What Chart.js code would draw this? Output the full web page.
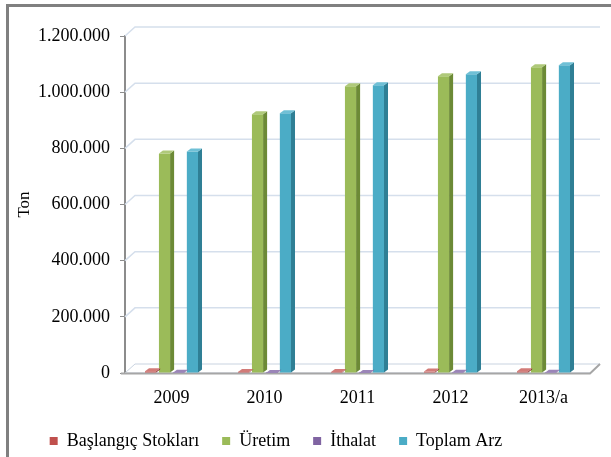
<!DOCTYPE html>
<html lang="tr">
<head>
<meta charset="UTF-8">
<title>Arz</title>
<script src="https://cdn.jsdelivr.net/npm/chart.js"></script>
<style>
    body { margin: 0; background: #fff; overflow: hidden; }
    .frame { position: absolute; left: 6px; top: 4px; width: 700px; height: 600px; border-left: 3px solid #808080; border-top: 3px solid #808080; }
    #chart { position: absolute; left: 0; top: 0; }
</style>
</head>
<body>
<div class="frame"></div>
<canvas id="chart" width="611" height="457"></canvas>
<script>
const years = ['2009', '2010', '2011', '2012', '2013/a'];
const stok = [6000, 4000, 3500, 5000, 6000];
const uretim = [782000, 921000, 1021000, 1057000, 1089000];
const ithalat = [500, 300, 400, 600, 800];
const toplamArz = [789000, 925000, 1025000, 1064000, 1096000];
const yTicks = [0, 200000, 400000, 600000, 800000, 1000000, 1200000];

const seriesNames = ['Başlangıç Stokları', 'Üretim', 'İthalat', 'Toplam Arz'];
const colors = ['#c0504d', '#9bbb59', '#8064a2', '#4bacc6'];
const sideColors = ['#8c3532', '#6c8a36', '#5a4576', '#2f7f95'];
const topColors = ['#d27b78', '#afc97a', '#9b85b8', '#6fc0d6'];

const font = 'Liberation Serif, Times New Roman, serif';
const wall = { dx: 10, dy: 9 };
const bar3d = { dx: 4, dy: 3 };

function dots(v) {
    return String(v).replace(/\B(?=(\d{3})+(?!\d))/g, '.');
}

// back wall grid lines and floor
const wallPlugin = {
    id: 'wall',
    beforeDatasetsDraw(chart) {
        const ctx = chart.ctx;
        const a = chart.chartArea;
        const ys = chart.scales.y;
        ctx.save();
        ctx.strokeStyle = '#d5dfec';
        ctx.lineWidth = 1.5;
        yTicks.forEach(v => {
            if (v === 0) return;
            const y = ys.getPixelForValue(v);
            ctx.beginPath();
            ctx.moveTo(a.left, y);
            ctx.lineTo(a.left + wall.dx, y - wall.dy);
            ctx.lineTo(a.right + wall.dx, y - wall.dy);
            ctx.stroke();
        });
        // floor
        const b = a.bottom;
        ctx.beginPath();
        ctx.moveTo(a.left, b);
        ctx.lineTo(a.left + wall.dx, b - wall.dy);
        ctx.lineTo(a.right + wall.dx, b - wall.dy);
        ctx.lineTo(a.right, b);
        ctx.closePath();
        ctx.fillStyle = '#ffffff';
        ctx.fill();
        ctx.strokeStyle = '#c9d3e0';
        ctx.lineWidth = 1;
        ctx.stroke();
        ctx.strokeStyle = '#a6a6a6';
        ctx.lineWidth = 2;
        ctx.beginPath();
        ctx.moveTo(a.left - 4, b + 0.5);
        ctx.lineTo(a.right, b + 0.5);
        ctx.lineTo(a.right + wall.dx, b - wall.dy);
        ctx.stroke();
        ctx.restore();
    }
};

// side and top faces of the columns
const barPlugin = {
    id: 'bar3d',
    afterDatasetsDraw(chart) {
        const ctx = chart.ctx;
        ctx.save();
        chart.data.datasets.forEach((ds, i) => {
            const meta = chart.getDatasetMeta(i);
            meta.data.forEach(el => {
                const p = el.getProps(['x', 'y', 'base', 'width'], true);
                const l = p.x - p.width / 2, r = p.x + p.width / 2;
                ctx.fillStyle = sideColors[i];
                ctx.beginPath();
                ctx.moveTo(r, p.y);
                ctx.lineTo(r + bar3d.dx, p.y - bar3d.dy);
                ctx.lineTo(r + bar3d.dx, p.base - bar3d.dy);
                ctx.lineTo(r, p.base);
                ctx.closePath();
                ctx.fill();
                ctx.fillStyle = topColors[i];
                ctx.beginPath();
                ctx.moveTo(l, p.y);
                ctx.lineTo(l + bar3d.dx, p.y - bar3d.dy);
                ctx.lineTo(r + bar3d.dx, p.y - bar3d.dy);
                ctx.lineTo(r, p.y);
                ctx.closePath();
                ctx.fill();
            });
        });
        ctx.restore();
    }
};

// nudge the legend to where it sits in the original
const legendShift = {
    id: 'legendShift',
    afterLayout(chart) {
        chart.legend.left -= 24;
        chart.legend.right -= 24;
        chart.legend.top += 5;
        chart.legend.bottom += 5;
    }
};

const allData = [stok, uretim, ithalat, toplamArz];

new Chart(document.getElementById('chart'), {
    type: 'bar',
    data: {
        labels: years,
        datasets: allData.map((d, i) => ({
            label: seriesNames[i],
            data: d,
            backgroundColor: colors[i],
            borderWidth: 0,
            barPercentage: 0.8,
            categoryPercentage: 0.6
        }))
    },
    options: {
        responsive: false,
        animation: false,
        layout: { padding: { left: 10, right: 21, top: 36, bottom: 2 } },
        plugins: {
            legend: {
                position: 'bottom',
                labels: {
                    boxWidth: 8,
                    boxHeight: 8,
                    padding: 23,
                    color: '#000',
                    font: { family: font, size: 18 }
                }
            },
            tooltip: { enabled: false }
        },
        scales: {
            x: {
                grid: { display: true, drawOnChartArea: false, drawTicks: false },
                border: { display: false },
                ticks: { color: '#000', padding: 14, font: { family: font, size: 18 } },
                afterFit(s) { s.height = 31; }
            },
            y: {
                min: 0,
                max: 1200000,
                afterBuildTicks(s) { s.ticks = yTicks.map(v => ({ value: v })); },
                grid: { drawOnChartArea: false, color: '#8c8c8c', tickLength: 5 },
                border: { color: '#8c8c8c', width: 2 },
                ticks: { color: '#000', padding: 10, font: { family: font, size: 18 }, callback: v => dots(v) },
                title: { display: true, text: 'Ton', color: '#000', font: { family: font, size: 17 } },
                afterFit(s) { s.width = 115; }
            }
        }
    },
    plugins: [wallPlugin, barPlugin, legendShift]
});
</script>
</body>
</html>
